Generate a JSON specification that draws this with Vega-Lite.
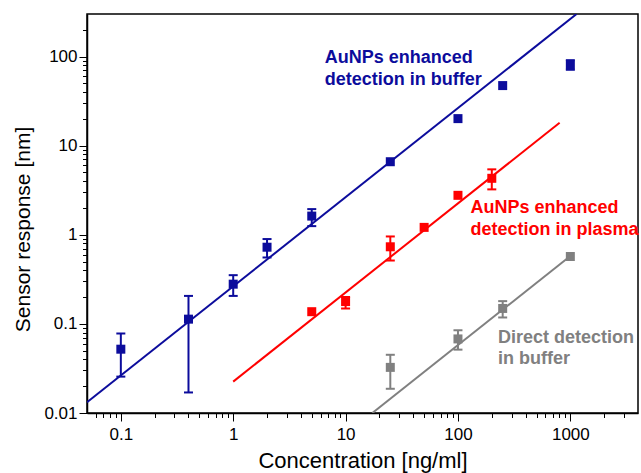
{
  "$schema": "https://vega.github.io/schema/vega-lite/v6.json",
  "width": 551,
  "height": 399,
  "autosize": "none",
  "padding": {"left": 87, "top": 14, "right": 3, "bottom": 60},
  "background": "white",
  "config": {
    "view": {"stroke": "black", "strokeWidth": 1.5},
    "font": "Liberation Sans",
    "axis": {
      "domainColor": "black", "domainWidth": 1.5, "tickColor": "black", "tickWidth": 1,
      "labelColor": "black", "titleColor": "black", "labelFontSize": 17, "labelFont": "Liberation Sans",
      "titleFont": "Liberation Sans", "titleFontWeight": "normal", "grid": false,
      "labelOverlap": false, "labelFlush": false
    }
  },
  "datasets": {
    "points": [
      {"series": "buffer", "x": 0.1, "y": 0.052, "lo": 0.0256, "hi": 0.078},
      {"series": "buffer", "x": 0.4, "y": 0.113, "lo": 0.017, "hi": 0.206},
      {"series": "buffer", "x": 1, "y": 0.279, "lo": 0.206, "hi": 0.352},
      {"series": "buffer", "x": 2, "y": 0.725, "lo": 0.556, "hi": 0.895},
      {"series": "buffer", "x": 5, "y": 1.62, "lo": 1.25, "hi": 1.94},
      {"series": "buffer", "x": 25, "y": 6.6},
      {"series": "buffer", "x": 100, "y": 20.1},
      {"series": "buffer", "x": 250, "y": 47.2},
      {"series": "buffer", "x": 1000, "y": 80.5, "lo": 71, "hi": 91},
      {"series": "plasma", "x": 5, "y": 0.137},
      {"series": "plasma", "x": 10, "y": 0.178, "lo": 0.149, "hi": 0.2},
      {"series": "plasma", "x": 25, "y": 0.733, "lo": 0.514, "hi": 0.957},
      {"series": "plasma", "x": 50, "y": 1.21},
      {"series": "plasma", "x": 100, "y": 2.77},
      {"series": "plasma", "x": 200, "y": 4.3, "lo": 3.23, "hi": 5.42},
      {"series": "direct", "x": 25, "y": 0.0325, "lo": 0.0187, "hi": 0.045},
      {"series": "direct", "x": 100, "y": 0.0678, "lo": 0.0514, "hi": 0.0848},
      {"series": "direct", "x": 250, "y": 0.149, "lo": 0.118, "hi": 0.18},
      {"series": "direct", "x": 1000, "y": 0.57}
    ],
    "lines": [
      {"series": "buffer", "x": 0.05, "y": 0.0132},
      {"series": "buffer", "x": 1136, "y": 300},
      {"series": "plasma", "x": 1, "y": 0.0225},
      {"series": "plasma", "x": 803, "y": 18.07},
      {"series": "direct", "x": 17.3, "y": 0.01},
      {"series": "direct", "x": 1000, "y": 0.578}
    ],
    "labels": [
      {"series": "buffer", "x": 6.53, "y": 84.3, "text": "AuNPs enhanced\ndetection in buffer"},
      {"series": "plasma", "x": 129, "y": 1.75, "text": "AuNPs enhanced\ndetection in plasma"},
      {"series": "direct", "x": 227, "y": 0.0612, "text": "Direct detection\nin buffer"}
    ]
  },
  "encoding": {
    "x": {
      "field": "x", "type": "quantitative",
      "scale": {"type": "log", "domain": [0.05, 4000], "nice": false},
      "axis": {
        "title": "Concentration [ng/ml]", "titleFontSize": 22, "titlePadding": 8,
        "values": [0.06,0.07,0.08,0.09,0.1,0.2,0.3,0.4,0.5,0.6,0.7,0.8,0.9,1,2,3,4,5,6,7,8,9,10,20,30,40,50,60,70,80,90,100,200,300,400,500,600,700,800,900,1000,2000,3000],
        "labelExpr": "abs(log(datum.value)/LN10 - round(log(datum.value)/LN10)) < 0.001 ? format(datum.value, '~g') : ''",
        "tickSize": {"condition": {"test": "abs(log(datum.value)/LN10 - round(log(datum.value)/LN10)) < 0.001", "value": 8}, "value": 4.5},
        "labelPadding": 5
      }
    },
    "y": {
      "field": "y", "type": "quantitative",
      "scale": {"type": "log", "domain": [0.01, 300], "nice": false},
      "axis": {
        "title": "Sensor response [nm]", "titleFontSize": 21, "titlePadding": 10, "titleY": 215,
        "values": [0.01,0.02,0.03,0.04,0.05,0.06,0.07,0.08,0.09,0.1,0.2,0.3,0.4,0.5,0.6,0.7,0.8,0.9,1,2,3,4,5,6,7,8,9,10,20,30,40,50,60,70,80,90,100,200],
        "labelExpr": "abs(log(datum.value)/LN10 - round(log(datum.value)/LN10)) < 0.001 ? format(datum.value, '~g') : ''",
        "tickSize": {"condition": {"test": "abs(log(datum.value)/LN10 - round(log(datum.value)/LN10)) < 0.001", "value": 8}, "value": 4.5},
        "labelPadding": 2
      }
    },
    "color": {
      "field": "series", "type": "nominal",
      "scale": {"domain": ["buffer", "plasma", "direct"], "range": ["#0c0c9c", "#ff0000", "#808080"]},
      "legend": null
    }
  },
  "layer": [
    {
      "data": {"name": "lines"},
      "mark": {"type": "line", "strokeWidth": 2, "clip": true},
      "encoding": {"detail": {"field": "series"}}
    },
    {
      "data": {"name": "points"},
      "transform": [{"filter": "isValid(datum.lo)"}],
      "mark": {"type": "rule", "strokeWidth": 2},
      "encoding": {"y": {"field": "lo", "type": "quantitative"}, "y2": {"field": "hi"}}
    },
    {
      "data": {"name": "points"},
      "transform": [{"filter": "isValid(datum.lo)"}],
      "mark": {"type": "tick", "orient": "horizontal", "size": 9, "thickness": 2, "opacity": 1},
      "encoding": {"y": {"field": "lo", "type": "quantitative"}}
    },
    {
      "data": {"name": "points"},
      "transform": [{"filter": "isValid(datum.hi)"}],
      "mark": {"type": "tick", "orient": "horizontal", "size": 9, "thickness": 2, "opacity": 1},
      "encoding": {"y": {"field": "hi", "type": "quantitative"}}
    },
    {
      "data": {"name": "points"},
      "mark": {"type": "point", "shape": "square", "filled": true, "size": 81, "opacity": 1}
    },
    {
      "data": {"name": "labels"},
      "mark": {"type": "text", "align": "left", "baseline": "alphabetic", "fontWeight": "bold", "fontSize": 18, "lineBreak": "\n", "lineHeight": 21.5, "font": "Liberation Sans"},
      "encoding": {"text": {"field": "text"}}
    }
  ]
}
